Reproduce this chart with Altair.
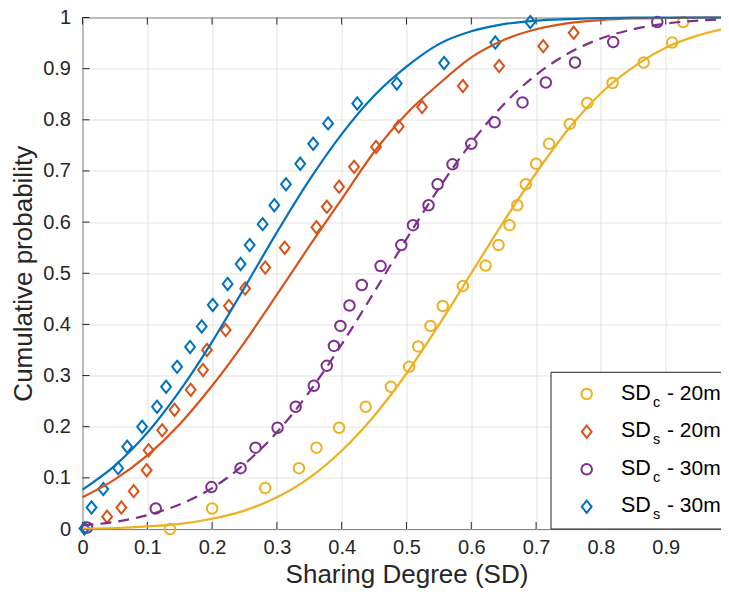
import altair as alt
import pandas as pd

# ---------------- data ----------------
x_ticks = [0, 0.1, 0.2, 0.3, 0.4, 0.5, 0.6, 0.7, 0.8, 0.9, 1]
y_ticks = [0, 0.1, 0.2, 0.3, 0.4, 0.5, 0.6, 0.7, 0.8, 0.9, 1]

# SDc - 20m (yellow circles)
sdc20_x = [0.135, 0.200, 0.282, 0.334, 0.361, 0.396, 0.437, 0.476, 0.504, 0.518, 0.537, 0.556, 0.587,
           0.622, 0.642, 0.659, 0.671, 0.684, 0.700, 0.720, 0.752, 0.779, 0.818, 0.866, 0.910, 0.927]
sdc20_y = [0.000, 0.040, 0.080, 0.119, 0.159, 0.198, 0.239, 0.278, 0.317, 0.357, 0.397, 0.436, 0.475,
           0.515, 0.555, 0.594, 0.633, 0.674, 0.714, 0.753, 0.792, 0.833, 0.872, 0.912, 0.951, 0.991]

# SDs - 20m (orange diamonds)
sds20_x = [0.038, 0.060, 0.079, 0.099, 0.102, 0.123, 0.142, 0.167, 0.186, 0.192, 0.221, 0.226, 0.251,
           0.282, 0.312, 0.361, 0.377, 0.396, 0.419, 0.453, 0.488, 0.524, 0.587, 0.643, 0.711, 0.758]
sds20_y = [0.024, 0.042, 0.074, 0.115, 0.154, 0.193, 0.233, 0.272, 0.311, 0.350, 0.389, 0.436, 0.470,
           0.511, 0.550, 0.590, 0.630, 0.669, 0.708, 0.747, 0.787, 0.825, 0.866, 0.905, 0.944, 0.970]

# SDc - 30m (purple circles)
sdc30_x = [0.007, 0.113, 0.199, 0.244, 0.267, 0.301, 0.329, 0.357, 0.377, 0.388, 0.398, 0.412, 0.431,
           0.460, 0.492, 0.510, 0.534, 0.548, 0.571, 0.600, 0.636, 0.679, 0.715, 0.760, 0.819, 0.887]
sdc30_y = [0.003, 0.040, 0.082, 0.119, 0.159, 0.198, 0.239, 0.280, 0.319, 0.358, 0.397, 0.437, 0.477,
           0.514, 0.555, 0.594, 0.633, 0.674, 0.713, 0.753, 0.795, 0.834, 0.873, 0.912, 0.952, 0.991]

# SDs - 30m (blue diamonds)
sds30_x = [0.003, 0.014, 0.032, 0.055, 0.069, 0.092, 0.115, 0.129, 0.146, 0.166, 0.184, 0.201, 0.224,
           0.244, 0.258, 0.278, 0.296, 0.314, 0.336, 0.356, 0.379, 0.424, 0.485, 0.558, 0.637, 0.691]
sds30_y = [0.001, 0.042, 0.078, 0.119, 0.161, 0.200, 0.239, 0.278, 0.317, 0.356, 0.396, 0.438, 0.479,
           0.518, 0.555, 0.596, 0.633, 0.674, 0.714, 0.753, 0.793, 0.832, 0.871, 0.911, 0.951, 0.991]

# fitted curves, read at x = 0, 0.05, ..., 1
curve_x = [0.00, 0.05, 0.10, 0.15, 0.20, 0.25, 0.30, 0.35, 0.40, 0.45, 0.50,
           0.55, 0.60, 0.65, 0.70, 0.75, 0.80, 0.85, 0.90, 0.95, 1.00]
sdc20_fit = [0.001, 0.002, 0.005, 0.010, 0.020, 0.036, 0.062, 0.100, 0.153, 0.221, 0.304,
             0.399, 0.500, 0.601, 0.696, 0.782, 0.852, 0.903, 0.941, 0.965, 0.981]
sds20_fit = [0.062, 0.097, 0.144, 0.205, 0.280, 0.365, 0.458, 0.553, 0.645, 0.737, 0.812,
             0.870, 0.922, 0.956, 0.977, 0.989, 0.995, 0.998, 0.999, 1.000, 1.000]
sdc30_fit = [0.007, 0.014, 0.027, 0.048, 0.080, 0.127, 0.189, 0.268, 0.361, 0.463, 0.567,
             0.666, 0.755, 0.830, 0.888, 0.930, 0.959, 0.977, 0.988, 0.994, 0.997]
sds30_fit = [0.077, 0.124, 0.188, 0.270, 0.366, 0.472, 0.580, 0.682, 0.772, 0.847, 0.904,
             0.948, 0.973, 0.987, 0.994, 0.997, 0.999, 1.000, 1.000, 1.000, 1.000]

legend_main = ["SD", "SD", "SD", "SD"]
legend_sub = ["c", "s", "c", "s"]
legend_rest = ["- 20m", "- 20m", "- 30m", "- 30m"]

# ---------------- styling ----------------
FONT = "Liberation Sans"
AX = "#262626"
YELLOW = "#EDB120"
ORANGE = "#D95319"
PURPLE = "#7E2F8E"
BLUE = "#0072BD"
W, H = 648, 511.5
DIAMOND = "M0,-1L0.8,0L0,1L-0.8,0Z"

xscale = alt.Scale(domain=[0, 1], nice=False, zero=False)
yscale = alt.Scale(domain=[0, 1], nice=False, zero=False)
xaxis = alt.Axis(values=x_ticks, format="~g", grid=True, gridColor="#e3e3e3", gridWidth=1,
                 ticks=False, domain=False, labelFont=FONT, labelFontSize=20, labelColor=AX,
                 labelPadding=8, labelFlush=False, labelOverlap=False,
                 titleFont=FONT, titleFontSize=26, titleFontWeight="normal", titleColor=AX,
                 titlePadding=4)
yaxis = alt.Axis(values=y_ticks, format="~g", grid=True, gridColor="#e3e3e3", gridWidth=1,
                 ticks=False, domain=False, labelFont=FONT, labelFontSize=20, labelColor=AX,
                 labelPadding=12, labelFlush=False, labelOverlap=False,
                 titleFont=FONT, titleFontSize=26, titleFontWeight="normal", titleColor=AX,
                 titlePadding=6)


def X(field="x"):
    return alt.X(f"{field}:Q", scale=xscale, axis=xaxis, title="Sharing Degree (SD)")


def Y(field="y"):
    return alt.Y(f"{field}:Q", scale=yscale, axis=yaxis, title="Cumulative probability")


def pts(xs, ys, color, shape, size):
    return alt.Chart(pd.DataFrame({"x": xs, "y": ys})).mark_point(
        shape=shape, size=size, filled=False, color=color, strokeWidth=2, opacity=1
    ).encode(x=X(), y=Y())


def curve(ys, color, dash=None):
    kw = dict(color=color, strokeWidth=2.2, interpolate="monotone")
    if dash:
        kw["strokeDash"] = dash
    return alt.Chart(pd.DataFrame({"x": curve_x, "y": ys})).mark_line(**kw).encode(x=X(), y=Y())


# inward ticks on all four sides (MATLAB style)
tlx = 7 / W
tly = 7 / H
xt = pd.DataFrame({"x": x_ticks, "b0": [0.0] * len(x_ticks), "b1": [tly] * len(x_ticks),
                   "t0": [1.0] * len(x_ticks), "t1": [1 - tly] * len(x_ticks)})
yt = pd.DataFrame({"y": y_ticks, "l0": [0.0] * len(y_ticks), "l1": [tlx] * len(y_ticks),
                   "r0": [1.0] * len(y_ticks), "r1": [1 - tlx] * len(y_ticks)})
tick_layers = [
    alt.Chart(xt).mark_rule(color=AX, strokeWidth=1).encode(x=X(), y=Y("b0"), y2="b1:Q"),
    alt.Chart(xt).mark_rule(color=AX, strokeWidth=1).encode(x=X(), y=Y("t0"), y2="t1:Q"),
    alt.Chart(yt).mark_rule(color=AX, strokeWidth=1).encode(y=Y(), x=X("l0"), x2="l1:Q"),
    alt.Chart(yt).mark_rule(color=AX, strokeWidth=1).encode(y=Y(), x=X("r0"), x2="r1:Q"),
]

# ---------------- custom legend (box in lower right) ----------------
one = pd.DataFrame({"k": [0]})
legend_layers = [
    alt.Chart(one).mark_rect(fill="white", stroke=AX, strokeWidth=1).encode(
        x=alt.value(468.5), x2=alt.value(720), y=alt.value(354.8), y2=alt.value(511.5))
]
leg_colors = [YELLOW, ORANGE, PURPLE, BLUE]
leg_shapes = ["circle", DIAMOND, "circle", DIAMOND]
leg_sizes = [110, 150, 110, 150]
leg_y = [376.5, 414.2, 451.8, 489.2]
for i in range(4):
    yy = leg_y[i]
    legend_layers.append(
        alt.Chart(one).mark_point(shape=leg_shapes[i], size=leg_sizes[i], filled=False,
                                  color=leg_colors[i], strokeWidth=2, opacity=1)
        .encode(x=alt.value(504.2), y=alt.value(yy)))
    legend_layers.append(
        alt.Chart(one).mark_text(text=legend_main[i], align="left", baseline="alphabetic",
                                 font=FONT, fontSize=21.5, color="#000000")
        .encode(x=alt.value(538.5), y=alt.value(yy + 5.5)))
    legend_layers.append(
        alt.Chart(one).mark_text(text=legend_sub[i], align="left", baseline="alphabetic",
                                 font=FONT, fontSize=14.5, color="#000000")
        .encode(x=alt.value(570.5), y=alt.value(yy + 12.5)))
    legend_layers.append(
        alt.Chart(one).mark_text(text=legend_rest[i], align="left", baseline="alphabetic",
                                 font=FONT, fontSize=21, color="#000000")
        .encode(x=alt.value(584.5), y=alt.value(yy + 5.5)))

layers = tick_layers + [
    pts(sdc20_x, sdc20_y, YELLOW, "circle", 110),
    pts(sds20_x, sds20_y, ORANGE, DIAMOND, 150),
    pts(sdc30_x, sdc30_y, PURPLE, "circle", 110),
    pts(sds30_x, sds30_y, BLUE, DIAMOND, 150),
    curve(sdc20_fit, YELLOW),
    curve(sds20_fit, ORANGE),
    curve(sdc30_fit, PURPLE, [11, 7]),
    curve(sds30_fit, BLUE),
] + legend_layers

chart = alt.layer(*layers).properties(
    width=W, height=H,
    padding={"left": 74.5, "top": 9.5, "right": -9.5, "bottom": 62},
    autosize=alt.AutoSizeParams(type="none"),
    background="white",
).configure_view(stroke=AX, strokeWidth=1)

chart.save("out.html", embed_options={"renderer": "svg", "actions": False})
